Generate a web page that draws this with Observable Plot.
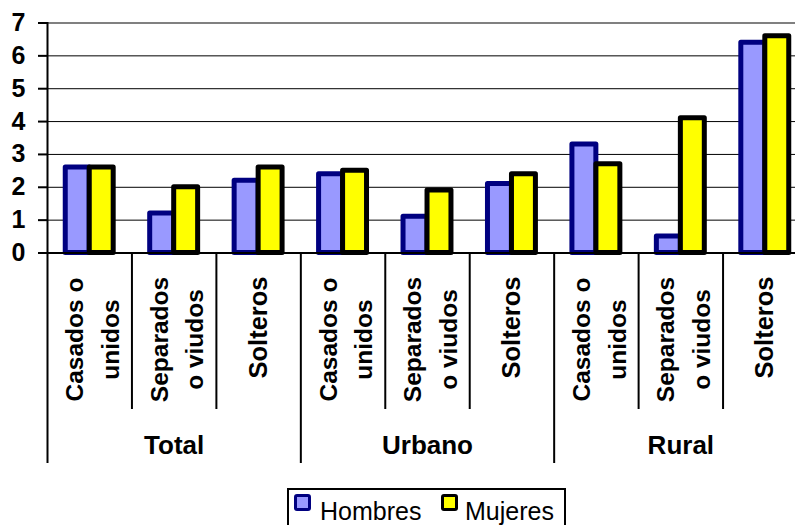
<!DOCTYPE html>
<html>
<head>
<meta charset="utf-8">
<script src="https://cdn.jsdelivr.net/npm/d3@7"></script>
<script src="https://cdn.jsdelivr.net/npm/@observablehq/plot@0.6"></script>
<style>
  html, body { margin: 0; padding: 0; background: #fff; overflow: hidden; }
  #wrap { position: relative; width: 795px; height: 525px; overflow: hidden; }
  #wrap svg { display: block; }
  .legend { position: absolute; left: 287px; top: 488px; width: 279px; height: 45px;
            border: 2px solid #000; box-sizing: border-box; background: #fff;
            font-family: Arial, "Liberation Sans", sans-serif; font-size: 25px; color: #000; }
  .sw { position: absolute; width: 17px; height: 17px; box-sizing: border-box; border-width: 3px; border-style: solid; border-radius: 3px; }
  .lt { position: absolute; line-height: 1; white-space: nowrap; }
</style>
</head>
<body>
<div id="wrap"></div>
<script>
// ---- data ----
const groups = ["Total", "Urbano", "Rural"];
const estados = ["Casados o\nunidos", "Separados\no viudos", "Solteros"];
const seriesNames = ["Hombres", "Mujeres"];
const hombres = [2.6, 1.2, 2.2, 2.4, 1.1, 2.1, 3.3, 0.5, 6.4];
const mujeres = [2.6, 2.0, 2.6, 2.5, 1.9, 2.4, 2.7, 4.1, 6.6];
const yTicks = [0, 1, 2, 3, 4, 5, 6, 7];

// ---- styles ----
const fills = ["#9999ff", "#ffff00"];
const strokes = ["#000080", "#000000"];
const FONT = "Arial, 'Liberation Sans', sans-serif";

const rows = [];
groups.forEach((g, gi) => estados.forEach((e, ei) => {
  const i = gi * 3 + ei;
  rows.push({ i, group: g, estado: e, hombres: hombres[i], mujeres: mujeres[i], two: e.includes("\n") });
}));
const nCat = rows.length;
const boundaries = d3.range(0, nCat + 1);
const innerB = boundaries.filter(b => b % 3 !== 0);
const groupB = boundaries.filter(b => b % 3 === 0 && b > 0);

const chart = Plot.plot({
  width: 795,
  height: 488,
  marginLeft: 47,
  marginRight: 0,
  marginTop: 22,
  marginBottom: 235,
  style: { fontFamily: FONT, overflow: "hidden", background: "#fff", color: "#000" },
  x: { domain: [0, nCat], range: [47, 807], axis: null },
  y: { domain: [0, 7], range: [252.5, 22.5], axis: null },
  marks: [
    Plot.ruleY(yTicks.filter(t => t > 0 && t < 7), { stroke: "#000", strokeWidth: 1 }),
    Plot.ruleY([7], { stroke: "#808080", strokeWidth: 2 }),
    Plot.rectY(rows, { x1: d => d.i, x2: d => d.i + 1, y: "hombres",
      fill: fills[0], stroke: strokes[0], strokeWidth: 5, strokeLinejoin: "round",
      insetLeft: 18.25, insetRight: 42.25 }),
    Plot.rectY(rows, { x1: d => d.i, x2: d => d.i + 1, y: "mujeres",
      fill: fills[1], stroke: strokes[1], strokeWidth: 5, strokeLinejoin: "round",
      insetLeft: 42.25, insetRight: 18.25 }),
    Plot.ruleY([0], { stroke: "#000", strokeWidth: 2 }),
    Plot.axisY(yTicks, { tickSize: 9, tickPadding: 13, fontSize: 25, fontWeight: "bold", strokeWidth: 2, label: null }),
    Plot.ruleX([0], { x: d => d, insetBottom: -210, stroke: "#000", strokeWidth: 2 }),
    Plot.ruleX(innerB, { x: d => d, insetTop: 231, insetBottom: -156, stroke: "#000", strokeWidth: 2 }),
    Plot.ruleX(groupB, { x: d => d, insetTop: 231, insetBottom: -210, stroke: "#000", strokeWidth: 2 }),
    Plot.text(rows.filter(d => d.two), { x: d => d.i + 0.5, text: "estado", frameAnchor: "bottom",
      rotate: -90, dy: 86, fontSize: 24.5, fontWeight: "bold", lineHeight: 1.45, textAnchor: "middle", lineAnchor: "middle" }),
    Plot.text(rows.filter(d => !d.two), { x: d => d.i + 0.5, text: "estado", frameAnchor: "bottom",
      rotate: -90, dy: 74, fontSize: 25.5, fontWeight: "bold", textAnchor: "middle", lineAnchor: "middle" }),
    Plot.text(groups, { x: (d, k) => k * 3 + 1.5, text: d => d, frameAnchor: "bottom",
      dy: 192, fontSize: 26, fontWeight: "bold", lineAnchor: "middle" })
  ]
});

const wrap = document.getElementById("wrap");
wrap.appendChild(chart);

// ---- legend (HTML, below the SVG) ----
const legend = document.createElement("div");
legend.className = "legend";
const swLeft = [5, 152];
const txLeft = [31, 176];
seriesNames.forEach((name, k) => {
  const sw = document.createElement("div");
  sw.className = "sw";
  sw.style.left = swLeft[k] + "px";
  sw.style.top = "4px";
  sw.style.background = fills[k];
  sw.style.borderColor = strokes[k];
  legend.appendChild(sw);
  const tx = document.createElement("div");
  tx.className = "lt";
  tx.style.left = txLeft[k] + "px";
  tx.style.top = "9px";
  tx.textContent = name;
  legend.appendChild(tx);
});
wrap.appendChild(legend);
</script>
</body>
</html>
